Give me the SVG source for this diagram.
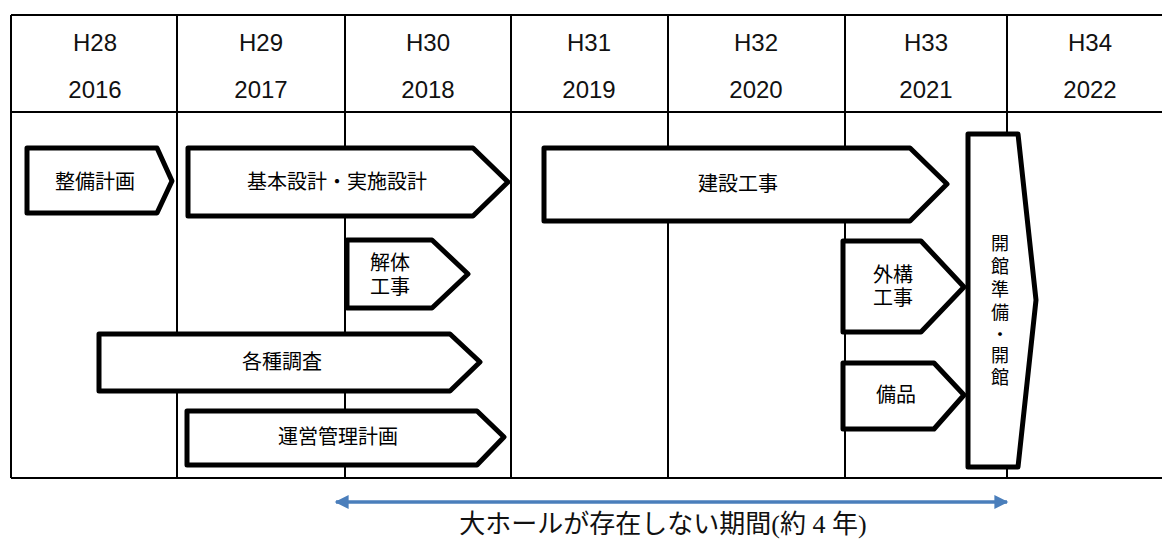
<svg xmlns="http://www.w3.org/2000/svg" width="1162" height="539" viewBox="0 0 1162 539">
<defs>
<style>
.grid{stroke:#000;stroke-width:2;fill:none}
.hd{font-family:"Liberation Sans","Noto Sans CJK JP",sans-serif;font-size:24px;fill:#111;text-anchor:middle}
.box{fill:#fff;stroke:#000;stroke-width:5;stroke-linejoin:round}
.lb{font-family:"Noto Sans CJK JP","Liberation Sans",sans-serif;font-size:20px;fill:#000;text-anchor:middle}
.vt{font-family:"Noto Sans CJK JP","Liberation Sans",sans-serif;font-size:18px;fill:#000;text-anchor:middle}
.cap{font-family:"Liberation Serif","Noto Sans CJK JP",serif;font-size:26px;fill:#111;text-anchor:middle}
</style>
<marker id="ah" viewBox="0 0 10 10" refX="9" refY="5" markerWidth="4.5" markerHeight="4" orient="auto-start-reverse" markerUnits="strokeWidth">
<path d="M0,0 L10,5 L0,10 z" fill="#4a7ebb"/>
</marker>
</defs>
<rect width="1162" height="539" fill="#fff"/>
<g id="table">
<line class="grid" x1="11" y1="15" x2="1162" y2="15"/>
<line class="grid" x1="11" y1="112" x2="1162" y2="112"/>
<line class="grid" x1="11" y1="478" x2="1162" y2="478"/>
<line class="grid" x1="11" y1="15" x2="11" y2="478"/>
<line class="grid" x1="177" y1="15" x2="177" y2="478"/>
<line class="grid" x1="345" y1="15" x2="345" y2="478"/>
<line class="grid" x1="511" y1="15" x2="511" y2="478"/>
<line class="grid" x1="668" y1="15" x2="668" y2="478"/>
<line class="grid" x1="845" y1="15" x2="845" y2="478"/>
<line class="grid" x1="1007" y1="15" x2="1007" y2="478"/>
<text class="hd" x="95" y="51">H28</text><text class="hd" x="95" y="98">2016</text>
<text class="hd" x="261" y="51">H29</text><text class="hd" x="261" y="98">2017</text>
<text class="hd" x="428" y="51">H30</text><text class="hd" x="428" y="98">2018</text>
<text class="hd" x="589" y="51">H31</text><text class="hd" x="589" y="98">2019</text>
<text class="hd" x="756" y="51">H32</text><text class="hd" x="756" y="98">2020</text>
<text class="hd" x="926" y="51">H33</text><text class="hd" x="926" y="98">2021</text>
<text class="hd" x="1090" y="51">H34</text><text class="hd" x="1090" y="98">2022</text>
</g>
<g id="seibi-keikaku">
<path class="box" d="M27,148 L157,148 L172,181 L157,213 L27,213 Z"/>
<text class="lb" x="95" y="189">整備計画</text>
</g>
<g id="kihon-sekkei">
<path class="box" d="M188,148 L473,148 L508,182 L473,216 L188,216 Z"/>
<text class="lb" x="337" y="189">基本設計・実施設計</text>
</g>
<g id="kensetsu">
<path class="box" d="M544,148 L910,148 L947,184 L910,221 L544,221 Z"/>
<text class="lb" x="738" y="191">建設工事</text>
</g>
<g id="kaitai">
<path class="box" d="M347,240 L432,240 L468,274 L432,308 L347,308 Z"/>
<text class="lb" x="390" y="270">解体</text>
<text class="lb" x="390" y="294">工事</text>
</g>
<g id="gaiko">
<path class="box" d="M843,241 L921,241 L964,287 L921,332 L843,332 Z"/>
<text class="lb" x="893" y="282">外構</text>
<text class="lb" x="893" y="305">工事</text>
</g>
<g id="bihin">
<path class="box" d="M843,363 L934,363 L964,395 L934,429 L843,429 Z"/>
<text class="lb" x="896" y="402">備品</text>
</g>
<g id="kaikan">
<path class="box" d="M968,134 L1018,134 L1036,300 L1018,467 L968,467 Z"/>
<text class="vt" x="1000"><tspan x="1000" y="250">開</tspan><tspan x="1000" y="273">館</tspan><tspan x="1000" y="296">準</tspan><tspan x="1000" y="319">備</tspan><tspan x="1000" y="341">・</tspan><tspan x="1000" y="362">開</tspan><tspan x="1000" y="384">館</tspan></text>
</g>
<g id="kakushu-chosa">
<path class="box" d="M99,334 L450,334 L480,362 L450,391 L99,391 Z"/>
<text class="lb" x="282" y="369">各種調査</text>
</g>
<g id="unei">
<path class="box" d="M187,411 L477,411 L504,437 L477,465 L187,465 Z"/>
<text class="lb" x="338" y="444">運営管理計画</text>
</g>
<g id="connectors">
<line x1="336" y1="502" x2="1007" y2="502" stroke="#4a7ebb" stroke-width="3.5" marker-start="url(#ah)" marker-end="url(#ah)"/>
</g>
<text class="cap" x="663" y="533">大ホールが存在しない期間(約 4 年)</text>
</svg>
